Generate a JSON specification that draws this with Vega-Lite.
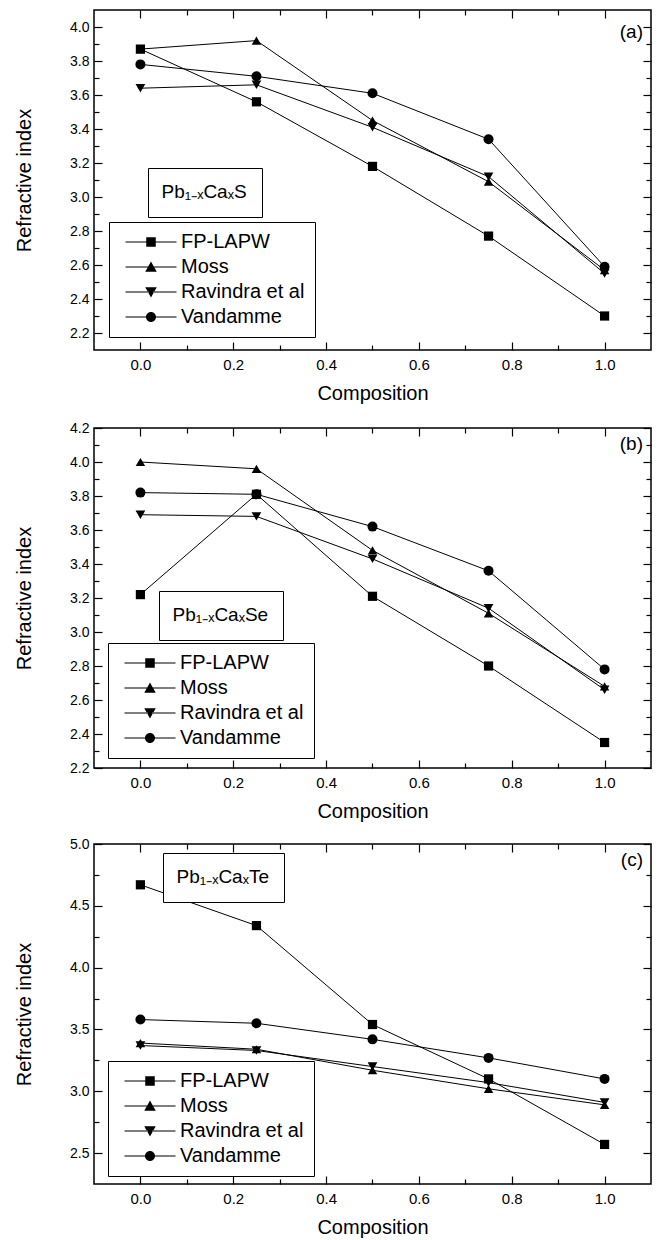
{
  "$schema": "https://vega.github.io/schema/vega-lite/v6.json",
  "background": "white",
  "padding": {"left": 13, "top": 8, "right": 0, "bottom": 0},
  "spacing": 16,
  "config": {
    "font": "Liberation Sans",
    "view": {"stroke": "black", "strokeWidth": 1.5},
    "axis": {"domain": false, "grid": false, "tickColor": "black", "tickWidth": 1.2, "labelColor": "black", "labelFont": "Liberation Sans", "titleFont": "Liberation Sans", "titleFontWeight": "normal", "titleColor": "black", "labelFlush": false},
    "legend": {"labelFont": "Liberation Sans", "labelColor": "black"},
    "title": {"font": "Liberation Sans", "fontWeight": "normal", "color": "black"}
  },
  "datasets": {
    "a": [
      {"x": 0, "n": 3.87, "series": "FP-LAPW"}, {"x": 0.25, "n": 3.56, "series": "FP-LAPW"}, {"x": 0.5, "n": 3.18, "series": "FP-LAPW"}, {"x": 0.75, "n": 2.77, "series": "FP-LAPW"}, {"x": 1, "n": 2.30, "series": "FP-LAPW"},
      {"x": 0, "n": 3.87, "series": "Moss"}, {"x": 0.25, "n": 3.92, "series": "Moss"}, {"x": 0.5, "n": 3.45, "series": "Moss"}, {"x": 0.75, "n": 3.09, "series": "Moss"}, {"x": 1, "n": 2.57, "series": "Moss"},
      {"x": 0, "n": 3.64, "series": "Ravindra et al"}, {"x": 0.25, "n": 3.66, "series": "Ravindra et al"}, {"x": 0.5, "n": 3.41, "series": "Ravindra et al"}, {"x": 0.75, "n": 3.12, "series": "Ravindra et al"}, {"x": 1, "n": 2.55, "series": "Ravindra et al"},
      {"x": 0, "n": 3.78, "series": "Vandamme"}, {"x": 0.25, "n": 3.71, "series": "Vandamme"}, {"x": 0.5, "n": 3.61, "series": "Vandamme"}, {"x": 0.75, "n": 3.34, "series": "Vandamme"}, {"x": 1, "n": 2.59, "series": "Vandamme"}
    ],
    "b": [
      {"x": 0, "n": 3.22, "series": "FP-LAPW"}, {"x": 0.25, "n": 3.81, "series": "FP-LAPW"}, {"x": 0.5, "n": 3.21, "series": "FP-LAPW"}, {"x": 0.75, "n": 2.80, "series": "FP-LAPW"}, {"x": 1, "n": 2.35, "series": "FP-LAPW"},
      {"x": 0, "n": 4.00, "series": "Moss"}, {"x": 0.25, "n": 3.96, "series": "Moss"}, {"x": 0.5, "n": 3.48, "series": "Moss"}, {"x": 0.75, "n": 3.11, "series": "Moss"}, {"x": 1, "n": 2.68, "series": "Moss"},
      {"x": 0, "n": 3.69, "series": "Ravindra et al"}, {"x": 0.25, "n": 3.68, "series": "Ravindra et al"}, {"x": 0.5, "n": 3.43, "series": "Ravindra et al"}, {"x": 0.75, "n": 3.14, "series": "Ravindra et al"}, {"x": 1, "n": 2.66, "series": "Ravindra et al"},
      {"x": 0, "n": 3.82, "series": "Vandamme"}, {"x": 0.25, "n": 3.81, "series": "Vandamme"}, {"x": 0.5, "n": 3.62, "series": "Vandamme"}, {"x": 0.75, "n": 3.36, "series": "Vandamme"}, {"x": 1, "n": 2.78, "series": "Vandamme"}
    ],
    "c": [
      {"x": 0, "n": 4.67, "series": "FP-LAPW"}, {"x": 0.25, "n": 4.34, "series": "FP-LAPW"}, {"x": 0.5, "n": 3.54, "series": "FP-LAPW"}, {"x": 0.75, "n": 3.10, "series": "FP-LAPW"}, {"x": 1, "n": 2.57, "series": "FP-LAPW"},
      {"x": 0, "n": 3.39, "series": "Moss"}, {"x": 0.25, "n": 3.34, "series": "Moss"}, {"x": 0.5, "n": 3.17, "series": "Moss"}, {"x": 0.75, "n": 3.02, "series": "Moss"}, {"x": 1, "n": 2.89, "series": "Moss"},
      {"x": 0, "n": 3.37, "series": "Ravindra et al"}, {"x": 0.25, "n": 3.33, "series": "Ravindra et al"}, {"x": 0.5, "n": 3.20, "series": "Ravindra et al"}, {"x": 0.75, "n": 3.07, "series": "Ravindra et al"}, {"x": 1, "n": 2.91, "series": "Ravindra et al"},
      {"x": 0, "n": 3.58, "series": "Vandamme"}, {"x": 0.25, "n": 3.55, "series": "Vandamme"}, {"x": 0.5, "n": 3.42, "series": "Vandamme"}, {"x": 0.75, "n": 3.27, "series": "Vandamme"}, {"x": 1, "n": 3.10, "series": "Vandamme"}
    ]
  },
  "resolve": {"scale": {"shape": "independent", "color": "independent", "size": "independent"}, "legend": {"shape": "independent", "color": "independent", "size": "independent"}},
  "vconcat": [
    {
      "width": 557, "height": 340,
      "data": {"name": "a"},
      "title": {"text": "(a)", "anchor": "end", "frame": "group", "offset": -33, "dx": -8, "fontSize": 19},
      "resolve": {"axis": {"x": "independent", "y": "independent"}, "scale": {"shape": "independent", "color": "independent", "size": "independent"}, "legend": {"shape": "independent", "color": "independent", "size": "independent"}},
      "layer": [
        {"mark": {"type": "line", "color": "black", "strokeWidth": 1},
         "encoding": {
           "x": {"field": "x", "type": "quantitative", "scale": {"domain": [-0.1, 1.1], "nice": false, "zero": false}, "axis": null},
           "y": {"field": "n", "type": "quantitative", "scale": {"domain": [2.1, 4.1], "nice": false, "zero": false}, "axis": null},
           "detail": {"field": "series"}}},
        {"mark": {"type": "point", "filled": true, "color": "black", "opacity": 1},
         "encoding": {
           "x": {"field": "x", "type": "quantitative", "scale": {"domain": [-0.1, 1.1], "nice": false, "zero": false}, "axis": {"orient": "bottom", "values": [0, 0.2, 0.4, 0.6, 0.8, 1], "format": ".1f", "tickSize": -8, "labelPadding": 15, "labelFontSize": 15, "title": "Composition", "titleFontSize": 20, "titlePadding": 11}},
           "y": {"field": "n", "type": "quantitative", "scale": {"domain": [2.1, 4.1], "nice": false, "zero": false}, "axis": {"orient": "left", "values": [2.2, 2.4, 2.6, 2.8, 3.0, 3.2, 3.4, 3.6, 3.8, 4.0], "format": ".1f", "tickSize": -8, "labelPadding": 13, "labelFontSize": 14, "title": "Refractive index", "titleFontSize": 20, "titlePadding": 35}},
           "shape": {"field": "series", "type": "nominal", "scale": {"domain": ["FP-LAPW", "Moss", "Ravindra et al", "Vandamme"], "range": ["square", "triangle-up", "triangle-down", "circle"]}, "legend": null},
           "size": {"field": "series", "type": "nominal", "scale": {"domain": ["FP-LAPW", "Moss", "Ravindra et al", "Vandamme"], "range": [85, 100, 100, 75]}, "legend": null}}},
        {"mark": {"type": "point", "filled": true, "color": "black", "opacity": 0},
         "encoding": {
           "x": {"field": "x", "type": "quantitative", "scale": {"domain": [-0.1, 1.1], "nice": false, "zero": false}, "axis": {"orient": "top", "values": [0, 0.2, 0.4, 0.6, 0.8, 1], "tickSize": -8, "labels": false, "title": null}},
           "y": {"field": "n", "type": "quantitative", "scale": {"domain": [2.1, 4.1], "nice": false, "zero": false}, "axis": {"orient": "right", "values": [2.2, 2.4, 2.6, 2.8, 3.0, 3.2, 3.4, 3.6, 3.8, 4.0], "tickSize": -8, "labels": false, "title": null}},
           "shape": {"field": "series", "type": "nominal", "scale": {"domain": ["FP-LAPW", "Moss", "Ravindra et al", "Vandamme"], "range": ["M-5.1,-0.11H-0.5V0.11H-5.1Z M0.5,-0.11H5.1V0.11H0.5Z M-0.95,-0.95H0.95V0.95H-0.95Z", "M-5.1,-0.11H-0.5V0.11H-5.1Z M0.5,-0.11H5.1V0.11H0.5Z M0,-1.1L1.15,0.95H-1.15Z", "M-5.1,-0.11H-0.5V0.11H-5.1Z M0.5,-0.11H5.1V0.11H0.5Z M0,1.1L1.15,-0.95H-1.15Z", "M-5.1,-0.11H-0.5V0.11H-5.1Z M0.5,-0.11H5.1V0.11H0.5Z M1,0A1,1,0,1,1,-1,0A1,1,0,1,1,1,0Z"]},
             "legend": {"orient": "none", "legendX": 15, "legendY": 212, "title": null, "padding": 10, "symbolSize": 100, "symbolOffset": 22, "labelOffset": 20, "labelFontSize": 20, "rowPadding": 5, "symbolFillColor": "black", "symbolStrokeColor": "black", "symbolStrokeWidth": 0, "symbolOpacity": 1, "strokeColor": "black", "fillColor": "white"}}}},
        {"mark": {"type": "point", "opacity": 0},
         "encoding": {
           "x": {"field": "x", "type": "quantitative", "scale": {"domain": [-0.1, 1.1], "nice": false, "zero": false}, "axis": {"orient": "bottom", "values": [0.1, 0.3, 0.5, 0.7, 0.9], "tickSize": -5, "labels": false, "title": null}},
           "y": {"field": "n", "type": "quantitative", "scale": {"domain": [2.1, 4.1], "nice": false, "zero": false}, "axis": {"orient": "left", "values": [2.3, 2.5, 2.7, 2.9, 3.1, 3.3, 3.5, 3.7, 3.9], "tickSize": -5, "labels": false, "title": null}},
           "color": {"datum": "Pb₁₋ₓCaₓS", "type": "nominal", "scale": {"range": ["black"]},
             "legend": {"orient": "none", "legendX": 54, "legendY": 158, "title": null, "padding": 14.5, "symbolSize": 0, "symbolOpacity": 0, "symbolStrokeWidth": 0, "labelOffset": -20, "labelFontSize": 19, "strokeColor": "black", "fillColor": "white"}}}},
        {"mark": {"type": "point", "opacity": 0},
         "encoding": {
           "x": {"field": "x", "type": "quantitative", "scale": {"domain": [-0.1, 1.1], "nice": false, "zero": false}, "axis": {"orient": "top", "values": [0.1, 0.3, 0.5, 0.7, 0.9], "tickSize": -5, "labels": false, "title": null}},
           "y": {"field": "n", "type": "quantitative", "scale": {"domain": [2.1, 4.1], "nice": false, "zero": false}, "axis": {"orient": "right", "values": [2.3, 2.5, 2.7, 2.9, 3.1, 3.3, 3.5, 3.7, 3.9], "tickSize": -5, "labels": false, "title": null}}}}
      ]
    },
    {
      "spacing": 14,
      "resolve": {"scale": {"shape": "independent", "color": "independent", "size": "independent"}, "legend": {"shape": "independent", "color": "independent", "size": "independent"}},
      "vconcat": [
        {
          "width": 557, "height": 340,
          "data": {"name": "b"},
          "title": {"text": "(b)", "anchor": "end", "frame": "group", "offset": -33, "dx": -8, "fontSize": 19},
          "resolve": {"axis": {"x": "independent", "y": "independent"}, "scale": {"shape": "independent", "color": "independent", "size": "independent"}, "legend": {"shape": "independent", "color": "independent", "size": "independent"}},
          "layer": [
            {"mark": {"type": "line", "color": "black", "strokeWidth": 1},
             "encoding": {
               "x": {"field": "x", "type": "quantitative", "scale": {"domain": [-0.1, 1.1], "nice": false, "zero": false}, "axis": null},
               "y": {"field": "n", "type": "quantitative", "scale": {"domain": [2.2, 4.2], "nice": false, "zero": false}, "axis": null},
               "detail": {"field": "series"}}},
            {"mark": {"type": "point", "filled": true, "color": "black", "opacity": 1},
             "encoding": {
               "x": {"field": "x", "type": "quantitative", "scale": {"domain": [-0.1, 1.1], "nice": false, "zero": false}, "axis": {"orient": "bottom", "values": [0, 0.2, 0.4, 0.6, 0.8, 1], "format": ".1f", "tickSize": -8, "labelPadding": 15, "labelFontSize": 15, "title": "Composition", "titleFontSize": 20, "titlePadding": 11}},
               "y": {"field": "n", "type": "quantitative", "scale": {"domain": [2.2, 4.2], "nice": false, "zero": false}, "axis": {"orient": "left", "values": [2.2, 2.4, 2.6, 2.8, 3.0, 3.2, 3.4, 3.6, 3.8, 4.0, 4.2], "format": ".1f", "tickSize": -8, "labelPadding": 13, "labelFontSize": 14, "title": "Refractive index", "titleFontSize": 20, "titlePadding": 35}},
               "shape": {"field": "series", "type": "nominal", "scale": {"domain": ["FP-LAPW", "Moss", "Ravindra et al", "Vandamme"], "range": ["square", "triangle-up", "triangle-down", "circle"]}, "legend": null},
               "size": {"field": "series", "type": "nominal", "scale": {"domain": ["FP-LAPW", "Moss", "Ravindra et al", "Vandamme"], "range": [85, 100, 100, 75]}, "legend": null}}},
            {"mark": {"type": "point", "filled": true, "color": "black", "opacity": 0},
             "encoding": {
               "x": {"field": "x", "type": "quantitative", "scale": {"domain": [-0.1, 1.1], "nice": false, "zero": false}, "axis": {"orient": "top", "values": [0, 0.2, 0.4, 0.6, 0.8, 1], "tickSize": -8, "labels": false, "title": null}},
               "y": {"field": "n", "type": "quantitative", "scale": {"domain": [2.2, 4.2], "nice": false, "zero": false}, "axis": {"orient": "right", "values": [2.2, 2.4, 2.6, 2.8, 3.0, 3.2, 3.4, 3.6, 3.8, 4.0, 4.2], "tickSize": -8, "labels": false, "title": null}},
               "shape": {"field": "series", "type": "nominal", "scale": {"domain": ["FP-LAPW", "Moss", "Ravindra et al", "Vandamme"], "range": ["M-5.1,-0.11H-0.5V0.11H-5.1Z M0.5,-0.11H5.1V0.11H0.5Z M-0.95,-0.95H0.95V0.95H-0.95Z", "M-5.1,-0.11H-0.5V0.11H-5.1Z M0.5,-0.11H5.1V0.11H0.5Z M0,-1.1L1.15,0.95H-1.15Z", "M-5.1,-0.11H-0.5V0.11H-5.1Z M0.5,-0.11H5.1V0.11H0.5Z M0,1.1L1.15,-0.95H-1.15Z", "M-5.1,-0.11H-0.5V0.11H-5.1Z M0.5,-0.11H5.1V0.11H0.5Z M1,0A1,1,0,1,1,-1,0A1,1,0,1,1,1,0Z"]},
                 "legend": {"orient": "none", "legendX": 14, "legendY": 215, "title": null, "padding": 10, "symbolSize": 100, "symbolOffset": 22, "labelOffset": 20, "labelFontSize": 20, "rowPadding": 5, "symbolFillColor": "black", "symbolStrokeColor": "black", "symbolStrokeWidth": 0, "symbolOpacity": 1, "strokeColor": "black", "fillColor": "white"}}}},
            {"mark": {"type": "point", "opacity": 0},
             "encoding": {
               "x": {"field": "x", "type": "quantitative", "scale": {"domain": [-0.1, 1.1], "nice": false, "zero": false}, "axis": {"orient": "bottom", "values": [0.1, 0.3, 0.5, 0.7, 0.9], "tickSize": -5, "labels": false, "title": null}},
               "y": {"field": "n", "type": "quantitative", "scale": {"domain": [2.2, 4.2], "nice": false, "zero": false}, "axis": {"orient": "left", "values": [2.3, 2.5, 2.7, 2.9, 3.1, 3.3, 3.5, 3.7, 3.9, 4.1], "tickSize": -5, "labels": false, "title": null}},
               "color": {"datum": "Pb₁₋ₓCaₓSe", "type": "nominal", "scale": {"range": ["black"]},
                 "legend": {"orient": "none", "legendX": 65, "legendY": 163, "title": null, "padding": 14.5, "symbolSize": 0, "symbolOpacity": 0, "symbolStrokeWidth": 0, "labelOffset": -20, "labelFontSize": 19, "strokeColor": "black", "fillColor": "white"}}}},
            {"mark": {"type": "point", "opacity": 0},
             "encoding": {
               "x": {"field": "x", "type": "quantitative", "scale": {"domain": [-0.1, 1.1], "nice": false, "zero": false}, "axis": {"orient": "top", "values": [0.1, 0.3, 0.5, 0.7, 0.9], "tickSize": -5, "labels": false, "title": null}},
               "y": {"field": "n", "type": "quantitative", "scale": {"domain": [2.2, 4.2], "nice": false, "zero": false}, "axis": {"orient": "right", "values": [2.3, 2.5, 2.7, 2.9, 3.1, 3.3, 3.5, 3.7, 3.9, 4.1], "tickSize": -5, "labels": false, "title": null}}}}
          ]
        },
        {
          "width": 557, "height": 340,
          "data": {"name": "c"},
          "title": {"text": "(c)", "anchor": "end", "frame": "group", "offset": -33, "dx": -8, "fontSize": 19},
          "resolve": {"axis": {"x": "independent", "y": "independent"}, "scale": {"shape": "independent", "color": "independent", "size": "independent"}, "legend": {"shape": "independent", "color": "independent", "size": "independent"}},
          "layer": [
            {"mark": {"type": "line", "color": "black", "strokeWidth": 1},
             "encoding": {
               "x": {"field": "x", "type": "quantitative", "scale": {"domain": [-0.1, 1.1], "nice": false, "zero": false}, "axis": null},
               "y": {"field": "n", "type": "quantitative", "scale": {"domain": [2.25, 5.0], "nice": false, "zero": false}, "axis": null},
               "detail": {"field": "series"}}},
            {"mark": {"type": "point", "filled": true, "color": "black", "opacity": 1},
             "encoding": {
               "x": {"field": "x", "type": "quantitative", "scale": {"domain": [-0.1, 1.1], "nice": false, "zero": false}, "axis": {"orient": "bottom", "values": [0, 0.2, 0.4, 0.6, 0.8, 1], "format": ".1f", "tickSize": -8, "labelPadding": 15, "labelFontSize": 15, "title": "Composition", "titleFontSize": 20, "titlePadding": 11}},
               "y": {"field": "n", "type": "quantitative", "scale": {"domain": [2.25, 5.0], "nice": false, "zero": false}, "axis": {"orient": "left", "values": [2.5, 3.0, 3.5, 4.0, 4.5, 5.0], "format": ".1f", "tickSize": -8, "labelPadding": 13, "labelFontSize": 14, "title": "Refractive index", "titleFontSize": 20, "titlePadding": 35}},
               "shape": {"field": "series", "type": "nominal", "scale": {"domain": ["FP-LAPW", "Moss", "Ravindra et al", "Vandamme"], "range": ["square", "triangle-up", "triangle-down", "circle"]}, "legend": null},
               "size": {"field": "series", "type": "nominal", "scale": {"domain": ["FP-LAPW", "Moss", "Ravindra et al", "Vandamme"], "range": [85, 100, 100, 75]}, "legend": null}}},
            {"mark": {"type": "point", "filled": true, "color": "black", "opacity": 0},
             "encoding": {
               "x": {"field": "x", "type": "quantitative", "scale": {"domain": [-0.1, 1.1], "nice": false, "zero": false}, "axis": {"orient": "top", "values": [0, 0.2, 0.4, 0.6, 0.8, 1], "tickSize": -8, "labels": false, "title": null}},
               "y": {"field": "n", "type": "quantitative", "scale": {"domain": [2.25, 5.0], "nice": false, "zero": false}, "axis": {"orient": "right", "values": [2.5, 3.0, 3.5, 4.0, 4.5, 5.0], "tickSize": -8, "labels": false, "title": null}},
               "shape": {"field": "series", "type": "nominal", "scale": {"domain": ["FP-LAPW", "Moss", "Ravindra et al", "Vandamme"], "range": ["M-5.1,-0.11H-0.5V0.11H-5.1Z M0.5,-0.11H5.1V0.11H0.5Z M-0.95,-0.95H0.95V0.95H-0.95Z", "M-5.1,-0.11H-0.5V0.11H-5.1Z M0.5,-0.11H5.1V0.11H0.5Z M0,-1.1L1.15,0.95H-1.15Z", "M-5.1,-0.11H-0.5V0.11H-5.1Z M0.5,-0.11H5.1V0.11H0.5Z M0,1.1L1.15,-0.95H-1.15Z", "M-5.1,-0.11H-0.5V0.11H-5.1Z M0.5,-0.11H5.1V0.11H0.5Z M1,0A1,1,0,1,1,-1,0A1,1,0,1,1,1,0Z"]},
                 "legend": {"orient": "none", "legendX": 14, "legendY": 217, "title": null, "padding": 10, "symbolSize": 100, "symbolOffset": 22, "labelOffset": 20, "labelFontSize": 20, "rowPadding": 5, "symbolFillColor": "black", "symbolStrokeColor": "black", "symbolStrokeWidth": 0, "symbolOpacity": 1, "strokeColor": "black", "fillColor": "white"}}}},
            {"mark": {"type": "point", "opacity": 0},
             "encoding": {
               "x": {"field": "x", "type": "quantitative", "scale": {"domain": [-0.1, 1.1], "nice": false, "zero": false}, "axis": {"orient": "bottom", "values": [0.1, 0.3, 0.5, 0.7, 0.9], "tickSize": -5, "labels": false, "title": null}},
               "y": {"field": "n", "type": "quantitative", "scale": {"domain": [2.25, 5.0], "nice": false, "zero": false}, "axis": {"orient": "left", "values": [2.75, 3.25, 3.75, 4.25, 4.75], "tickSize": -5, "labels": false, "title": null}},
               "color": {"datum": "Pb₁₋ₓCaₓTe", "type": "nominal", "scale": {"range": ["black"]},
                 "legend": {"orient": "none", "legendX": 69, "legendY": 9, "title": null, "padding": 14.5, "symbolSize": 0, "symbolOpacity": 0, "symbolStrokeWidth": 0, "labelOffset": -20, "labelFontSize": 19, "strokeColor": "black", "fillColor": "white"}}}},
            {"mark": {"type": "point", "opacity": 0},
             "encoding": {
               "x": {"field": "x", "type": "quantitative", "scale": {"domain": [-0.1, 1.1], "nice": false, "zero": false}, "axis": {"orient": "top", "values": [0.1, 0.3, 0.5, 0.7, 0.9], "tickSize": -5, "labels": false, "title": null}},
               "y": {"field": "n", "type": "quantitative", "scale": {"domain": [2.25, 5.0], "nice": false, "zero": false}, "axis": {"orient": "right", "values": [2.75, 3.25, 3.75, 4.25, 4.75], "tickSize": -5, "labels": false, "title": null}}}}
          ]
        }
      ]
    }
  ]
}
